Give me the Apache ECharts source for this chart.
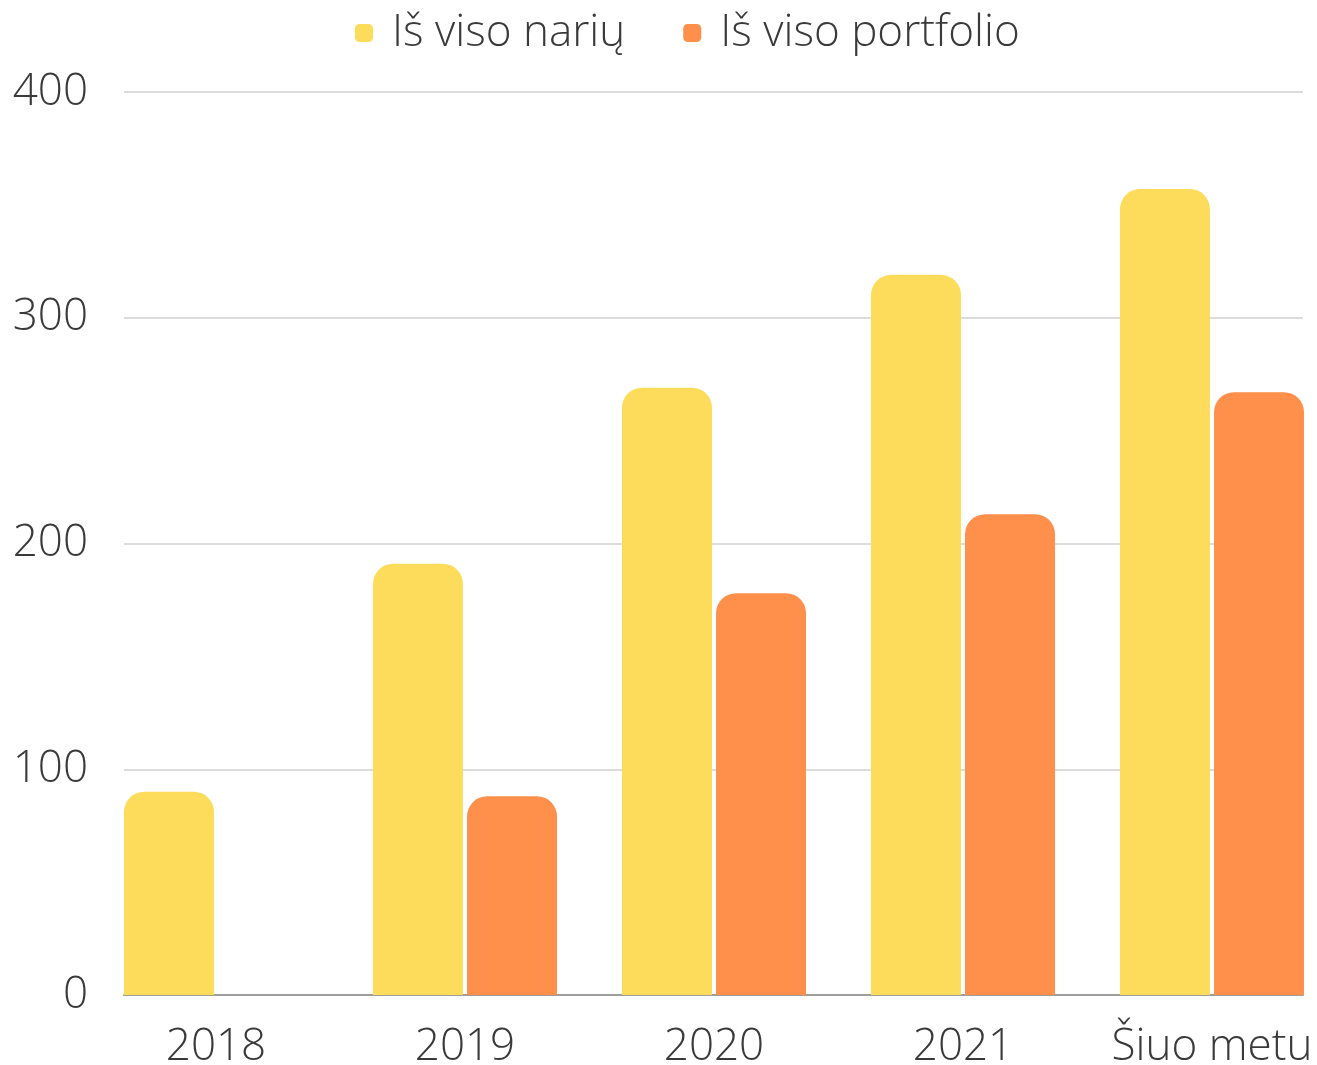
<!DOCTYPE html>
<html>
<head>
<meta charset="utf-8">
<script src="https://cdn.jsdelivr.net/npm/echarts@6/dist/echarts.min.js"></script>
<style>
  html, body { margin: 0; padding: 0; background: #fff; }
  #chart { width: 1317px; height: 1065px; }
</style>
</head>
<body>
<div id="chart"></div>
<script>
// duomenys
const categories = ["2018", "2019", "2020", "2021", "Šiuo metu"];
const nariuValues = [90, 191, 269, 319, 357];
const portfolioValues = [0, 88, 178, 213, 267];
const seriesNames = ["Iš viso narių", "Iš viso portfolio"];
const yTicks = { min: 0, max: 400, interval: 100 };

const font = "'Open Sans', 'Noto Sans', sans-serif";
const textColor = "#3a3a3a";

let myChart = echarts.init(document.getElementById("chart"));

let option = {
  animation: false,
  textStyle: { fontFamily: font },
  legend: {
    top: 6,
    left: 350,
    itemWidth: 18,
    itemHeight: 18,
    itemGap: 58,
    icon: "roundRect",
    textStyle: {
      fontFamily: font,
      fontSize: 44,
      fontWeight: 300,
      color: textColor,
      padding: [0, 0, 0, 14],
    },
    data: seriesNames,
  },
  grid: [
    // tinklelio linijos ir y ašis
    { left: 124, right: 14, top: 92, bottom: 70, outerBoundsMode: "none" },
    // stulpeliai (platesnis, kad grupės prasidėtų nuo kairės)
    { left: 91.5, width: 1245, top: 92, bottom: 70, outerBoundsMode: "none" },
  ],
  xAxis: [
    {
      gridIndex: 0,
      type: "value",
      min: 0,
      max: 1,
      show: true,
      axisLabel: { show: false },
      axisTick: { show: false },
      splitLine: { show: false },
      axisLine: { show: true, lineStyle: { color: "#9e9e9e", width: 2 } },
    },
    {
      gridIndex: 1,
      type: "category",
      data: categories,
      axisLine: { show: false },
      axisTick: { show: false },
      axisLabel: {
        interval: 0,
        margin: 30,
        fontFamily: font,
        fontSize: 44,
        fontWeight: 300,
        color: textColor,
      },
    },
  ],
  yAxis: [
    {
      gridIndex: 0,
      type: "value",
      min: yTicks.min,
      max: yTicks.max,
      interval: yTicks.interval,
      axisLine: { show: false },
      axisTick: { show: false },
      axisLabel: {
        margin: 36,
        fontFamily: font,
        fontSize: 44,
        fontWeight: 300,
        color: textColor,
        padding: [10, 0, 0, 0],
      },
      splitLine: { lineStyle: { color: "#dcdcdc", width: 2 } },
    },
    {
      gridIndex: 1,
      type: "value",
      min: yTicks.min,
      max: yTicks.max,
      interval: yTicks.interval,
      show: false,
      splitLine: { show: false },
    },
  ],
  series: [
    {
      name: seriesNames[0],
      type: "bar",
      xAxisIndex: 1,
      yAxisIndex: 1,
      barWidth: 90,
      barGap: "4.5%",
      itemStyle: { color: "#fedc5b", borderRadius: [20, 20, 0, 0] },
      data: nariuValues,
    },
    {
      name: seriesNames[1],
      type: "bar",
      xAxisIndex: 1,
      yAxisIndex: 1,
      barWidth: 90,
      barGap: "4.5%",
      itemStyle: { color: "#ff904b", borderRadius: [20, 20, 0, 0] },
      data: portfolioValues,
    },
  ],
};

option && myChart.setOption(option);
</script>
</body>
</html>
